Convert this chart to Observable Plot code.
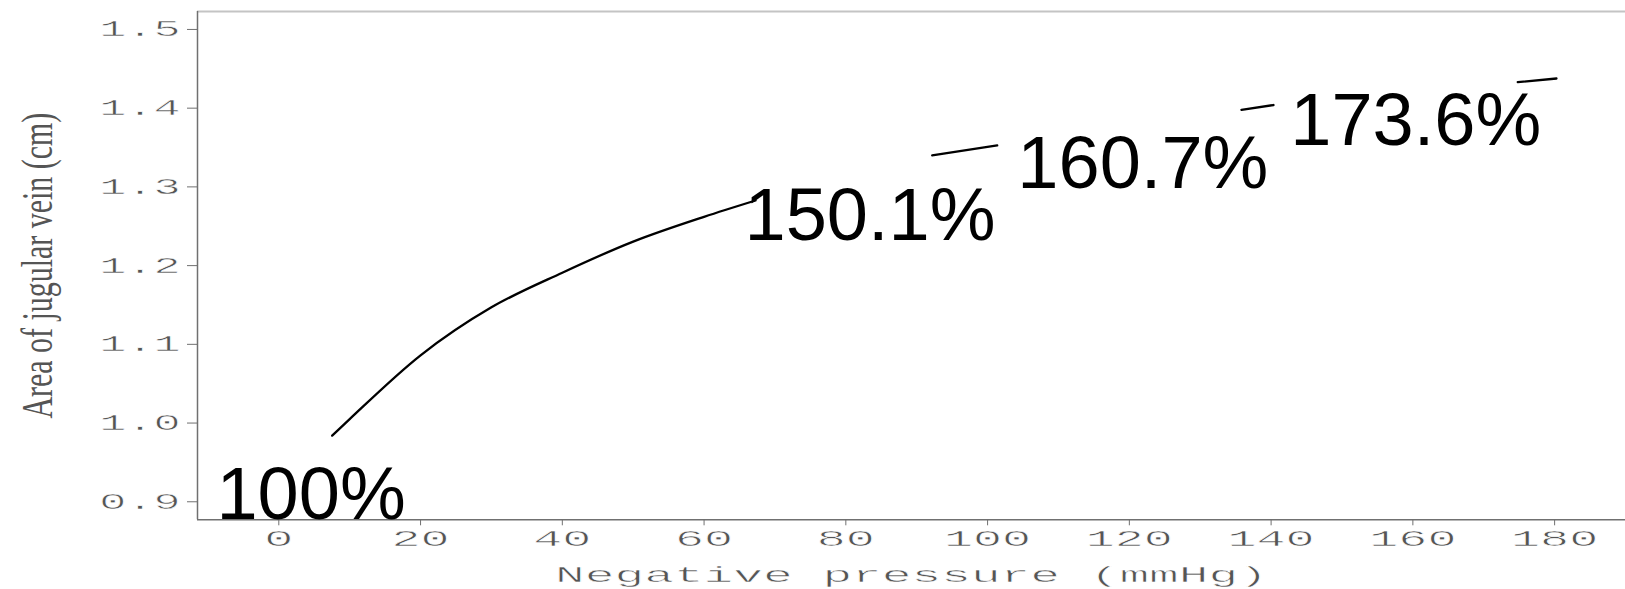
<!DOCTYPE html>
<html>
<head>
<meta charset="utf-8">
<script src="https://cdn.jsdelivr.net/npm/d3@7"></script>
<script src="https://cdn.jsdelivr.net/npm/@observablehq/plot@0.6"></script>
<style>
  html, body { margin: 0; padding: 0; background: #fff; }
  #chart svg { display: block; background: #fff; overflow: visible; }
</style>
</head>
<body>
<div id="chart"></div>
<script>
// ---- data ----
// visible pieces of the fitted curve (the rest is hidden behind the percentage labels)
const curvePressure = [7.53, 10, 20, 30, 40, 50, 60, 67.26, 92.18, 101.36, 135.82, 140.33, 174.8, 180.26];
const curveArea     = [0.984, 1.005, 1.086, 1.147, 1.191, 1.2305, 1.262, 1.2827, 1.3401, 1.3528, 1.3979, 1.404, 1.433, 1.4377];
const curvePiece    = [1, 1, 1, 1, 1, 1, 1, 1, 2, 2, 3, 3, 4, 4];

const labelText     = ["100%", "150.1%", "160.7%", "173.6%"];
const labelPressure = [-8.8, 65.7, 104.2, 142.7];
const labelArea     = [0.8784, 1.233, 1.2992, 1.3526];

const xTicks = [0, 20, 40, 60, 80, 100, 120, 140, 160, 180];
const yTicks = [0.9, 1.0, 1.1, 1.2, 1.3, 1.4, 1.5];

const xTitle = "Negative pressure (mmHg)";
const yTitle = "Area of jugular vein (cm)";

const xDomain = [-11.47, 190];
const yDomain = [0.8771, 1.5228];

// ---- tables built from the arrays ----
const curve = curvePressure.map((p, i) => ({pressure: p, area: curveArea[i], piece: curvePiece[i]}));
const labels = labelText.map((t, i) => ({text: t, pressure: labelPressure[i], area: labelArea[i]}));

const tickFont = "'Liberation Mono', 'Courier New', monospace";

const svg = Plot.plot({
  width: 1625,
  height: 589,
  marginLeft: 197,
  marginRight: 0,
  marginTop: 11,
  marginBottom: 69.7,
  style: {background: "#fff", fontFamily: tickFont},
  x: {domain: xDomain, axis: null},
  y: {domain: yDomain, axis: null},
  marks: [
    // frame lines
    Plot.ruleY([yDomain[1]], {stroke: "#c4c4c4", strokeWidth: 2}),
    Plot.ruleX([xDomain[0]], {stroke: "#707070", strokeWidth: 1.5}),
    Plot.ruleY([yDomain[0]], {stroke: "#707070", strokeWidth: 1.5}),
    Plot.axisX(xTicks, {
      tickSize: 6, tickPadding: 5, stroke: "#707070", fill: "#555",
      fontSize: 22, tickFormat: d => String(d), label: null
    }),
    Plot.axisY(yTicks, {
      tickSize: 10, tickPadding: 7, stroke: "#707070", fill: "#555",
      fontSize: 22, tickFormat: d3.format(".1f"), label: null
    }),
    Plot.line(curve, {x: "pressure", y: "area", z: "piece", stroke: "#000", strokeWidth: 2.3, curve: "monotone-x"}),
    Plot.text(labels, {
      x: "pressure", y: "area", text: "text",
      textAnchor: "start", lineAnchor: "bottom",
      fontSize: 74, fontFamily: "'Liberation Sans', Arial, sans-serif", fill: "#000"
    }),
    Plot.text([xTitle], {
      frameAnchor: "bottom", dy: 62.4, lineAnchor: "bottom", textAnchor: "middle",
      fontSize: 22, fontFamily: tickFont, fill: "#555", className: "xtitle"
    }),
    Plot.text([yTitle], {
      frameAnchor: "left", dx: -146, rotate: -90, lineAnchor: "bottom", textAnchor: "middle",
      fontSize: 45, fontFamily: "'Liberation Serif', 'Times New Roman', serif", fill: "#555", className: "ytitle"
    })
  ]
});

document.getElementById("chart").append(svg);

// stretch text along its direction, like the reference's wide/condensed fonts
function stretch(selection, sx) {
  selection.each(function () {
    const t = d3.select(this);
    const tr = t.attr("transform") || "";
    t.attr("transform", tr + ` scale(${sx},1)`);
  });
}
// thin the stretched strokes a little with a white outline painted over the fill
function thin(selection, w) {
  selection.attr("stroke", "#fff").attr("stroke-width", w).style("paint-order", "normal");
}
const root = d3.select(svg);
const xLab = root.selectAll('g[aria-label="x-axis tick label"] text');
const yLab = root.selectAll('g[aria-label="y-axis tick label"] text');
const xT = root.selectAll('g.xtitle text');
const yT = root.selectAll('g.ytitle text');
root.selectAll('g[aria-label="x-axis tick label"], g[aria-label="y-axis tick label"]')
  .attr("font-family", tickFont).attr("font-size", 22);
stretch(xLab, 2.2);
stretch(yLab, 2.05);
stretch(xT, 2.25);
stretch(yT, 0.665);
thin(xLab, 0.5);
thin(yLab, 0.5);
thin(xT, 0.5);
</script>
</body>
</html>
